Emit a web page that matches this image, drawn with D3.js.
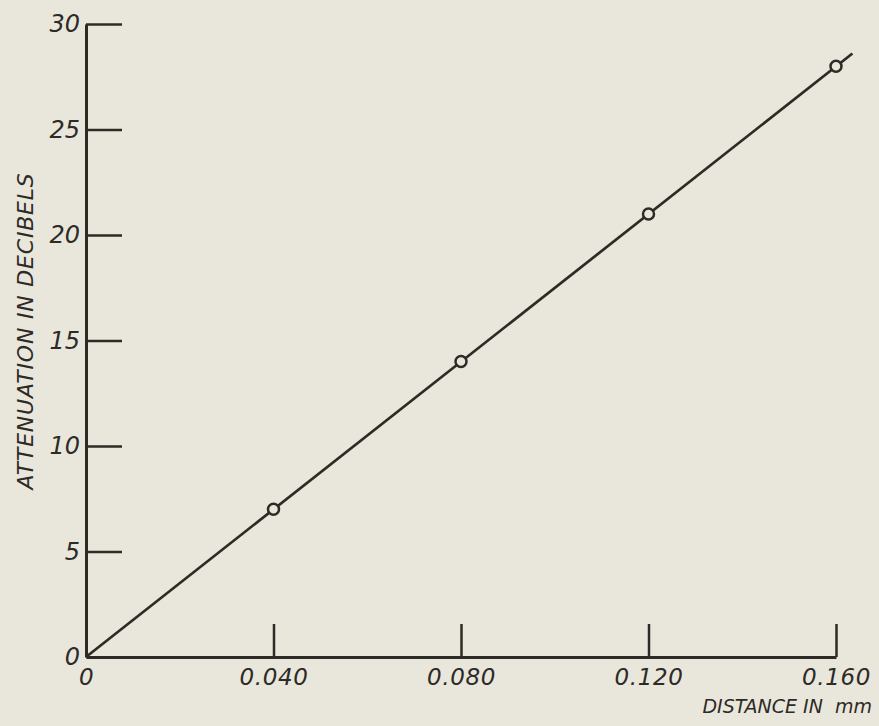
<!DOCTYPE html>
<html>
<head>
<meta charset="utf-8">
<script src="https://cdn.jsdelivr.net/npm/d3@7"></script>
<style>
  body { margin: 0; background: #e9e7dc; }
  svg { display: block; }
  .lbl { font-family: "DejaVu Sans", sans-serif; font-style: italic; fill: #2e2a26; }
</style>
</head>
<body>
<div id="chart"></div>
<script>
var width = 879, height = 726;

// measured points
var distance = [0.040, 0.080, 0.120, 0.160];
var attenuation = [7, 14, 21, 28];
// fitted straight line drawn through origin
var lineX = [0, 0.1635];
var lineY = [0, 28.6];

var xTicks = [0, 0.04, 0.08, 0.12, 0.16];
var xTickLabels = ["0", "0.040", "0.080", "0.120", "0.160"];
var yTicks = [0, 5, 10, 15, 20, 25, 30];

var ink = "#2e2a26";

var svg = d3.select("#chart")
            .append("svg")
                .attr("width", width)
                .attr("height", height);

svg.append("rect")
    .attr("width", width)
    .attr("height", height)
    .attr("fill", "#e9e7dc");

var xScale = d3.scaleLinear()
                .domain([0, 0.16])
                .range([86, 836]);

var yScale = d3.scaleLinear()
                .domain([0, 30])
                .range([657, 24]);

//Add y-Axis
var yAxis = svg.append("g")
    .attr("transform", "translate(" + xScale(0) + ",0)")
    .call(d3.axisLeft(yScale)
            .tickValues(yTicks)
            .tickSize(-36)
            .tickSizeOuter(0)
            .tickPadding(6)
            .tickFormat(d3.format("d")));

//Add x-Axis
var xAxis = svg.append("g")
    .attr("transform", "translate(0," + yScale(0) + ")")
    .call(d3.axisBottom(xScale)
            .tickValues(xTicks)
            .tickSize(-33)
            .tickSizeOuter(0)
            .tickPadding(12)
            .tickFormat(function(d, i) { return xTickLabels[i]; }));

[yAxis, xAxis].forEach(function(ax) {
    ax.select(".domain").attr("stroke", ink).attr("stroke-width", 3);
    ax.selectAll(".tick line").attr("stroke", ink).attr("stroke-width", 2.5);
    ax.selectAll(".tick text")
        .attr("class", "lbl")
        .attr("fill", ink)
        .style("font-size", "24px");
});
// no tick marks at the origin
yAxis.selectAll(".tick").filter(function(d) { return d === 0; }).select("line").remove();
xAxis.selectAll(".tick").filter(function(d) { return d === 0; }).select("line").remove();
xAxis.selectAll(".tick text")
    .style("font-size", "23px")
    .style("letter-spacing", "0.6px");

// the straight line
var line = d3.line()
    .x(function(d) { return xScale(d[0]); })
    .y(function(d) { return yScale(d[1]); });

svg.append("path")
    .datum(d3.zip(lineX, lineY))
    .attr("d", line)
    .attr("fill", "none")
    .attr("stroke", ink)
    .attr("stroke-width", 2.7);

// open circles
svg.append("g")
    .selectAll("circle")
    .data(d3.zip(distance, attenuation))
    .enter()
    .append("circle")
        .attr("cx", function(d) { return xScale(d[0]); })
        .attr("cy", function(d) { return yScale(d[1]); })
        .attr("r", 5.5)
        .attr("fill", "#e9e7dc")
        .attr("stroke", ink)
        .attr("stroke-width", 2.5);

// axis titles
svg.append("text")
    .attr("class", "lbl")
    .attr("x", 872)
    .attr("y", 713)
    .attr("text-anchor", "end")
    .style("font-size", "19px")
    .attr("xml:space", "preserve")
    .text("DISTANCE IN  mm");

svg.append("text")
    .attr("class", "lbl")
    .attr("transform", "translate(33,331) rotate(-90)")
    .attr("text-anchor", "middle")
    .style("font-size", "22px")
    .style("letter-spacing", "0.8px")
    .text("ATTENUATION IN DECIBELS");
</script>
</body>
</html>
